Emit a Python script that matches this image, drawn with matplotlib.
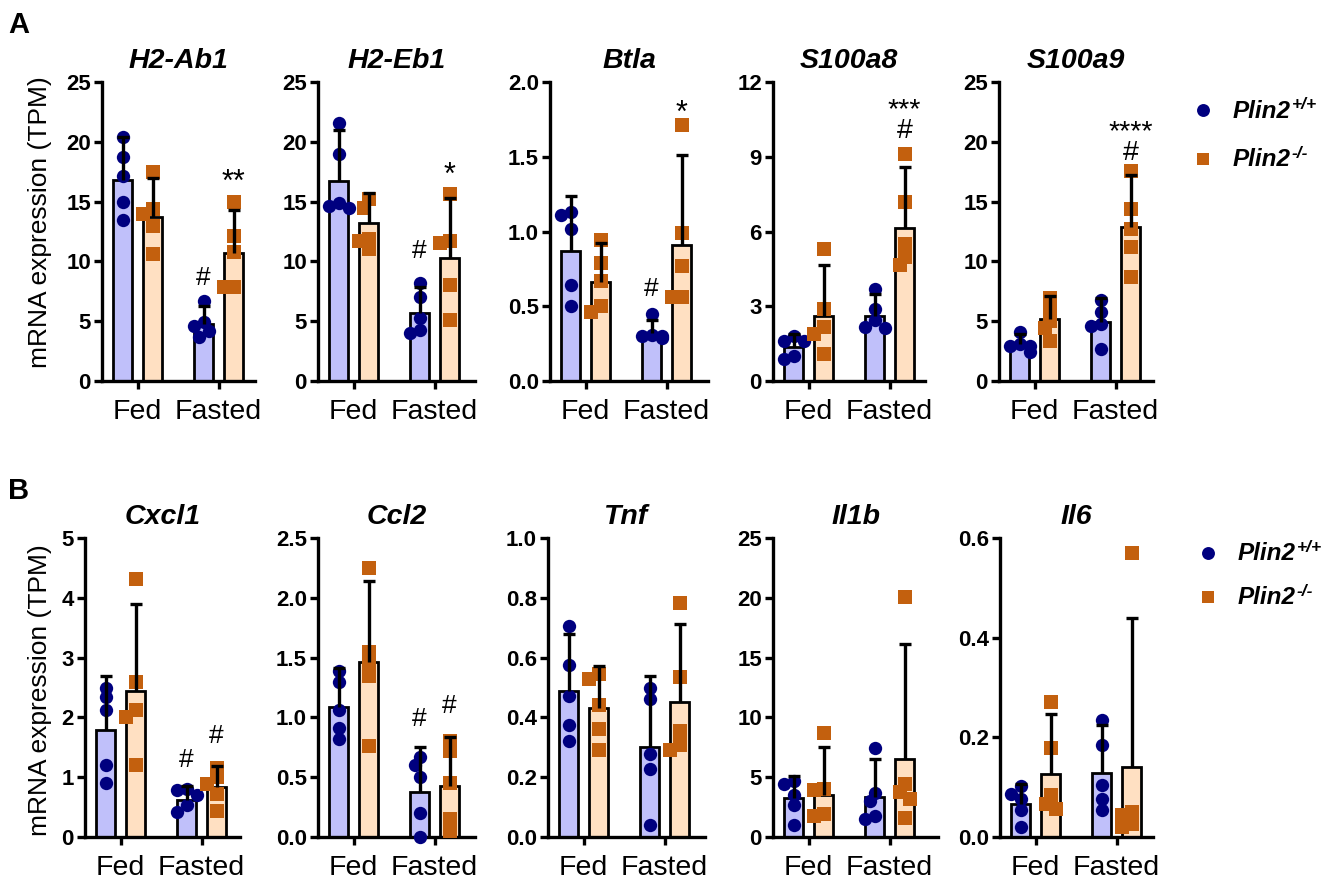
import matplotlib
matplotlib.use("Agg")
import matplotlib.pyplot as plt
from matplotlib.text import Annotation
import numpy as np

plt.rcParams['font.family'] = ['Liberation Sans', 'DejaVu Sans']

# groups: WT fed, KO fed, WT fasted, KO fasted
conditions = ["Fed", "Fasted"]

h2ab1_pts = [[20.4, 18.7, 17.1, 15.0, 13.5], [17.5, 14.4, 14.0, 13.0, 10.6],
             [6.7, 4.9, 4.6, 4.2, 3.7], [15.0, 12.1, 10.8, 7.9, 7.9]]
h2ab1_mean = [16.8, 13.7, 4.8, 10.7]
h2ab1_err = [3.6, 3.3, 1.5, 3.6]

h2eb1_pts = [[21.6, 19.0, 14.9, 14.6, 14.5], [15.2, 14.5, 11.9, 11.7, 11.0],
             [8.2, 7.0, 5.3, 4.3, 4.0], [15.6, 11.7, 11.5, 8.0, 5.1]]
h2eb1_mean = [16.7, 13.2, 5.65, 10.3]
h2eb1_err = [4.3, 2.5, 2.25, 5.0]

btla_pts = [[1.13, 1.11, 1.02, 0.64, 0.50], [0.94, 0.79, 0.67, 0.50, 0.46],
            [0.45, 0.31, 0.30, 0.30, 0.29], [1.71, 0.99, 0.77, 0.56, 0.56]]
btla_mean = [0.87, 0.665, 0.32, 0.91]
btla_err = [0.365, 0.255, 0.09, 0.60]

s100a8_pts = [[1.8, 1.6, 1.6, 1.0, 0.9], [5.31, 2.9, 2.17, 1.87, 1.1],
              [3.7, 2.9, 2.43, 2.17, 2.14], [9.12, 7.18, 5.51, 4.98, 4.64]]
s100a8_mean = [1.36, 2.6, 2.6, 6.15]
s100a8_err = [0.54, 2.04, 0.88, 2.44]

s100a9_pts = [[4.1, 3.1, 2.9, 2.9, 2.4], [6.94, 6.16, 5.04, 4.40, 3.36],
              [6.8, 5.8, 4.8, 4.6, 2.7], [17.6, 14.4, 12.7, 11.2, 8.7]]
s100a9_mean = [3.08, 5.18, 4.95, 12.9]
s100a9_err = [0.84, 1.9, 1.95, 4.3]

cxcl1_pts = [[2.50, 2.34, 2.12, 1.20, 0.90], [4.32, 2.59, 2.12, 2.0, 1.20],
             [0.81, 0.78, 0.71, 0.53, 0.42], [1.16, 1.0, 0.88, 0.72, 0.43]]
cxcl1_mean = [1.79, 2.44, 0.62, 0.84]
cxcl1_err = [0.91, 1.45, 0.24, 0.34]

ccl2_pts = [[1.39, 1.30, 1.06, 0.91, 0.82], [2.25, 1.55, 1.46, 1.35, 0.76],
            [0.67, 0.60, 0.50, 0.20, 0.0], [0.80, 0.72, 0.45, 0.15, 0.05]]
ccl2_mean = [1.09, 1.46, 0.38, 0.43]
ccl2_err = [0.32, 0.68, 0.37, 0.41]

tnf_pts = [[0.705, 0.574, 0.47, 0.373, 0.321], [0.546, 0.53, 0.44, 0.36, 0.29],
           [0.50, 0.463, 0.279, 0.229, 0.039], [0.783, 0.535, 0.355, 0.307, 0.29]]
tnf_mean = [0.487, 0.43, 0.30, 0.45]
tnf_err = [0.193, 0.141, 0.238, 0.263]

il1b_pts = [[4.72, 4.47, 3.55, 2.71, 0.98], [8.66, 4.05, 3.97, 1.93, 1.79],
            [7.4, 3.69, 2.99, 1.79, 1.51], [20.1, 4.44, 3.77, 3.18, 1.59]]
il1b_mean = [3.27, 3.55, 3.35, 6.48]
il1b_err = [1.87, 3.99, 3.13, 9.62]

il6_pts = [[0.102, 0.087, 0.077, 0.055, 0.020], [0.270, 0.178, 0.084, 0.066, 0.057],
           [0.235, 0.184, 0.104, 0.077, 0.055], [0.570, 0.050, 0.044, 0.027, 0.020]]
il6_mean = [0.066, 0.127, 0.129, 0.141]
il6_err = [0.040, 0.119, 0.096, 0.298]

# significance marks: (bar index, text, baseline y of last line)
h2ab1_marks = [(2, "#", 8.0), (3, "**", 15.9)]
h2eb1_marks = [(2, "#", 10.3), (3, "*", 16.5)]
btla_marks = [(2, "#", 0.57), (3, "*", 1.73)]
s100a8_marks = [(3, "***\n#", 9.77)]
s100a9_marks = [(3, "****\n#", 18.5)]
cxcl1_marks = [(2, "#", 1.17), (3, "#", 1.57)]
ccl2_marks = [(2, "#", 0.93), (3, "#", 1.04)]

row_a = [("H2-Ab1", h2ab1_pts, h2ab1_mean, h2ab1_err, h2ab1_marks, 25, 5, "{:.0f}"),
         ("H2-Eb1", h2eb1_pts, h2eb1_mean, h2eb1_err, h2eb1_marks, 25, 5, "{:.0f}"),
         ("Btla", btla_pts, btla_mean, btla_err, btla_marks, 2.0, 0.5, "{:.1f}"),
         ("S100a8", s100a8_pts, s100a8_mean, s100a8_err, s100a8_marks, 12, 3, "{:.0f}"),
         ("S100a9", s100a9_pts, s100a9_mean, s100a9_err, s100a9_marks, 25, 5, "{:.0f}")]
row_b = [("Cxcl1", cxcl1_pts, cxcl1_mean, cxcl1_err, cxcl1_marks, 5, 1, "{:.0f}"),
         ("Ccl2", ccl2_pts, ccl2_mean, ccl2_err, ccl2_marks, 2.5, 0.5, "{:.1f}"),
         ("Tnf", tnf_pts, tnf_mean, tnf_err, [], 1.0, 0.2, "{:.1f}"),
         ("Il1b", il1b_pts, il1b_mean, il1b_err, [], 25, 5, "{:.0f}"),
         ("Il6", il6_pts, il6_mean, il6_err, [], 0.6, 0.2, "{:.1f}")]

W, H = 1343, 884
# axes extents in pixels (spine x, x-axis end) and rows (top, bottom)
cols_a = [(102, 255), (318, 475), (550, 708), (773, 925), (999, 1153)]
cols_b = [(85, 240), (318, 475), (548, 705), (773, 938), (1000, 1153)]
rows = [(82, 381), (538, 837)]

GROUP_PX = 81.0
X_LEFT = -0.44
OFFS = [-0.185, 0.185, 0.815, 1.185]
BAR_W = 0.24
FILL = ["#C0C0FA", "#FFE0C2", "#C0C0FA", "#FFE0C2"]
PT_COL = ["#00007F", "#C3600E", "#00007F", "#C3600E"]
MARK = ["o", "s", "o", "s"]
LW = 2.0

fig = plt.figure(figsize=(W / 100, H / 100), dpi=100)


def swarm(vals, px_per_unit, step=5.0, dmin=9.0):
    order = np.argsort(vals)[::-1]
    placed = []
    xo = np.zeros(len(vals))
    for i in order:
        y = vals[i] * px_per_unit
        for k in [0, -1, 1, -2, 2]:
            x = k * step
            if all((x - px) ** 2 + (y - py) ** 2 >= dmin ** 2 for px, py in placed):
                break
        placed.append((x, y))
        xo[i] = x / GROUP_PX
    return xo


def panel(row, col, spec):
    name, pts, mean, err, marks, ytop, ystep, fmt = spec
    top, bot = row
    left, right = col
    ax = fig.add_axes([left / W, 1 - bot / H, (right - left) / W, (bot - top) / H])
    ax.set_xlim(X_LEFT, X_LEFT + (right - left) / GROUP_PX)
    ax.set_ylim(0, ytop)
    ppu = (bot - top) / ytop
    for i in range(4):
        x = OFFS[i]
        ax.bar(x, mean[i], width=BAR_W, color=FILL[i], edgecolor="black",
               linewidth=LW, zorder=2)
        xo = swarm(np.array(pts[i]), ppu)
        ax.plot(x + xo, pts[i], linestyle="none", marker=MARK[i],
                markersize=9.6, color=PT_COL[i], markeredgewidth=0,
                clip_on=False, zorder=3)
        ax.plot([x, x], [mean[i], mean[i] + err[i]], color="black",
                linewidth=LW + 0.4, solid_capstyle="butt", zorder=4)
        ax.plot([x - 0.075, x + 0.075], [mean[i] + err[i]] * 2, color="black",
                linewidth=LW + 0.4, solid_capstyle="butt", zorder=4)
    for idx, txt, y in marks:
        if "\n" in txt:
            size = 20.5
        elif txt == "#":
            size = 19
        else:
            size = 22
        ax.text(OFFS[idx], y, txt, ha="center", va="baseline", fontsize=size,
                linespacing=0.72, multialignment="center")
    ax.set_title(name, fontsize=20.5, fontweight="bold", style="italic", pad=10)
    ax.spines[["top", "right"]].set_visible(False)
    for s in ["left", "bottom"]:
        ax.spines[s].set_linewidth(LW + 0.4)
        ax.spines[s].set_capstyle("projecting")
    yt = np.arange(0, ytop + ystep / 2, ystep)
    ax.set_yticks(yt)
    ax.set_yticklabels([fmt.format(v) for v in yt], fontweight="bold")
    ax.set_xticks([0, 1])
    ax.set_xticklabels(conditions)
    ax.tick_params(axis="y", length=6, width=LW + 0.4, labelsize=16, pad=2)
    ax.tick_params(axis="x", length=6, width=LW + 0.4, labelsize=20.5, pad=7)
    return ax


for col, spec in zip(cols_a, row_a):
    panel(rows[0], col, spec)
for col, spec in zip(cols_b, row_b):
    panel(rows[1], col, spec)

for (top, bot), letter, ly, cy in zip(rows, ["A", "B"], [33, 499], [222, 690]):
    fig.text(40 / W, 1 - cy / H, "mRNA expression (TPM)",
             rotation=90, ha="center", va="center", fontsize=19)
    fig.text(8 / W, 1 - ly / H, letter, fontsize=21, fontweight="bold",
             va="baseline")

legend_pos = [(1203, 1233, 110, 159), (1208, 1238, 553, 597)]
legend_sup = ["+/+", "-/-"]
for mx, tx, y1, y2 in legend_pos:
    for y, mk, col, sup in [(y1, "o", PT_COL[0], legend_sup[0]),
                            (y2, "s", PT_COL[1], legend_sup[1])]:
        fig.lines.append(plt.Line2D([mx / W], [1 - y / H], marker=mk, markersize=9.3,
                                    color=col, markeredgewidth=0,
                                    transform=fig.transFigure))
        t = fig.text(tx / W, 1 - (y + 1) / H, "Plin2", fontsize=17.5,
                     fontweight="bold", style="italic", va="center")
        ann = Annotation(sup, xy=(1, 1), xycoords=t, xytext=(0.5, 1.5),
                         textcoords="offset points", fontsize=12.5,
                         fontweight="bold", style="italic", va="top", ha="left")
        fig.add_artist(ann)

fig.savefig("out.png", dpi=100)
